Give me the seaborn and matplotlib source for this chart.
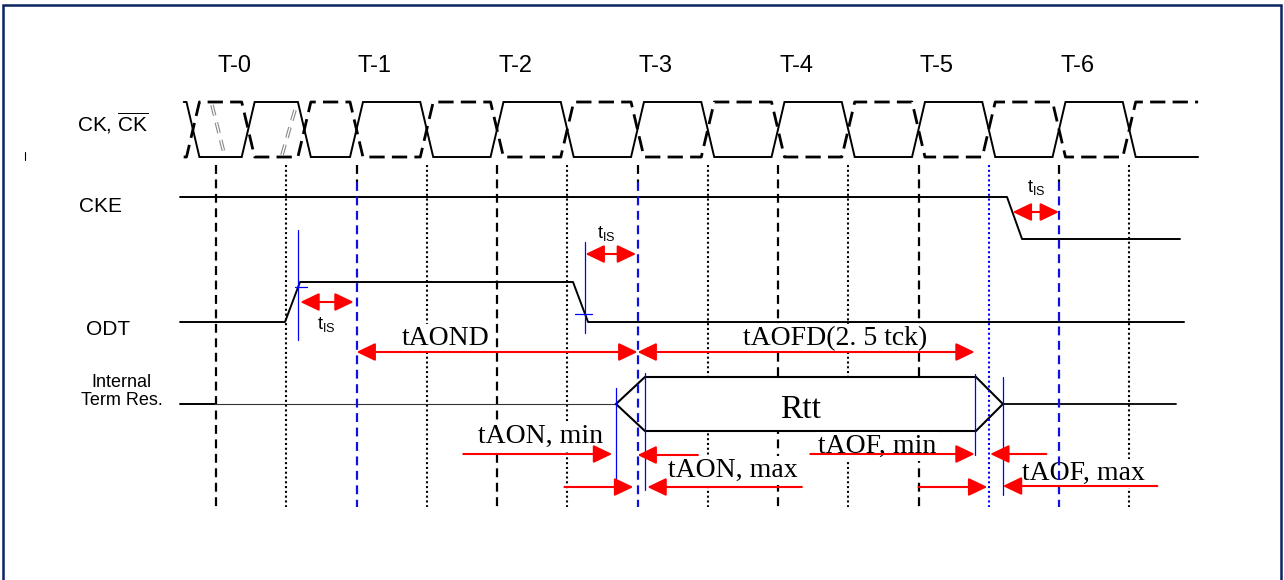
import numpy as np
import pandas as pd
import matplotlib
matplotlib.use("Agg")
import matplotlib.pyplot as plt
import seaborn as sns
from matplotlib.patches import Rectangle, Polygon

# ---------------- data (time in clock cycles, T-0 = 0) ----------------
cycle_labels = ["T-0", "T-1", "T-2", "T-3", "T-4", "T-5", "T-6"]
cycle_ticks = [0, 1, 2, 3, 4, 5, 6]
blue_cycles = [1, 3, 6]
half_cycles = [0.5, 1.5, 2.5, 3.5, 4.5, 5.5, 6.5]
blue_half = [5.5]

ck_start, ck_end = -0.23, 6.99
ck_edges = [-0.164, 0.229, 0.629, 1.0, 1.5, 2.0, 2.5, 3.0, 3.5, 4.0,
            4.5, 5.0, 5.5, 6.0, 6.5]

cke_t = [-0.256, 5.63, 5.737, 6.861]
cke_level = [1, 1, 0, 0]
odt_t = [-0.256, 0.491, 0.598, 2.541, 2.648, 6.89]
odt_level = [0, 0, 1, 1, 0, 0]

term_t = [-0.256, -0.007, 2.847]
rtt_t = [2.847, 3.053, 5.409, 5.601]
term_end = 6.833

blue_marks_t = [0.584, 2.626, 2.847, 3.053, 5.402, 5.601]

tis_arrows = [(5.67, 6.0), (0.60, 0.98), (2.63, 2.99)]
taond = (1.0, 3.0)
taofd = (3.0, 5.40)
taon_min = [(1.76, 2.82), (3.43, 3.0)]
taon_max = [(2.48, 2.97), (4.17, 3.07)]
taof_min = [(4.23, 5.40), (5.91, 5.51)]
taof_max = [(5.0, 5.49), (6.70, 5.60)]

# ---------------- style / layout ----------------
sns.set_theme(style="white")
plt.rcParams["font.family"] = ["Liberation Sans", "DejaVu Sans"]
plt.rcParams["text.color"] = "black"
plt.rcParams["mathtext.fontset"] = "custom"
plt.rcParams["mathtext.rm"] = "Liberation Sans"
plt.rcParams["mathtext.it"] = "Liberation Sans:italic"
plt.rcParams["mathtext.bf"] = "Liberation Sans:bold"
SERIF = ["Liberation Serif", "DejaVu Serif"]

fig = plt.figure(figsize=(12.84, 5.80), dpi=100)
fig.patch.set_facecolor("white")
ax = fig.add_axes([0, 0, 1, 1])
PX0, PER = 216.0, 140.5
XL = (-PX0 / PER, (1284 - PX0) / PER)

def px(p):  # pixel column -> cycles (layout only)
    return (p - PX0) / PER

BLACK = "#000000"
BLUE = "#0000ff"
RED = "#ff0000"

# border (bottom edge lies below the picture, as in the reference)
fig.add_artist(Rectangle((2.5 / 1284, -10 / 580), 1278.5 / 1284, 585 / 580,
                         transform=fig.transFigure, fill=False,
                         lw=1.8, ec="#0b2361"))

# ---------------- grid lines ----------------
GY0, GY1 = 165, 507
for t in cycle_ticks:
    if t in blue_cycles:
        ax.plot([t, t], [GY0, 182], color=BLACK, lw=1.6, ls=(0, (4, 2.5)),
                zorder=1)
        ax.plot([t, t], [182, GY1], color="#1010e0", lw=1.6,
                ls=(0, (4, 2.5)), zorder=4)
    else:
        ax.plot([t, t], [GY0, GY1], color=BLACK, lw=1.6, ls=(0, (4, 2.5)),
                zorder=1)
for t in half_cycles:
    if t in blue_half:
        ax.plot([t, t], [GY0, GY1], color=BLUE, lw=1.5, ls=(0, (1, 1.3)),
                zorder=4)
    else:
        ax.plot([t, t], [GY0, GY1], color=BLACK, lw=1.5, ls=(0, (1, 1.3)),
                zorder=1)

# cycle labels
for t, lab in zip(cycle_ticks, cycle_labels):
    ax.text(t + 0.13, 72, lab, fontsize=17, ha="center", va="baseline")

# ---------------- clock ----------------
CK_HI, CK_LO = 102, 157
hw = 0.046

def clock_path(start_level):
    xs, ys = [ck_start], [start_level]
    lvl = start_level
    for e in ck_edges:
        nl = CK_LO if lvl == CK_HI else CK_HI
        xs += [e - hw, e + hw]
        ys += [lvl, nl]
        lvl = nl
    xs.append(ck_end)
    ys.append(lvl)
    return xs, ys

cx, cy = clock_path(CK_HI)
ax.plot(cx, cy, color=BLACK, lw=1.4, solid_joinstyle="miter", zorder=3)
dx, dy = clock_path(CK_LO)
ax.plot(dx, dy, color=BLACK, lw=2.0, ls=(0, (5.5, 2.6)), zorder=3)
# gray double-line artefacts in the first cycle
for (x0, y0, x1, y1) in [(212, 105, 225, 157), (295, 110, 282, 155)]:
    ax.plot([px(x0), px(x1)], [y0, y1], color="#888888", lw=2.6,
            ls=(0, (3, 2)), zorder=3)
    ax.plot([px(x0), px(x1)], [y0, y1], color="white", lw=1.0,
            ls=(0, (7.8, 5.2)), zorder=3)
ax.plot([px(25), px(25)], [152, 160], color=BLACK, lw=0.8)

# ---------------- CKE / ODT ----------------
cke_df = pd.DataFrame({"t": cke_t,
                       "y": [197 if v else 239 for v in cke_level]})
sns.lineplot(data=cke_df, x="t", y="y", ax=ax, sort=False, estimator=None,
             color=BLACK, lw=1.4, zorder=3)
odt_df = pd.DataFrame({"t": odt_t,
                       "y": [282 if v else 322 for v in odt_level]})
sns.lineplot(data=odt_df, x="t", y="y", ax=ax, sort=False, estimator=None,
             color=BLACK, lw=1.4, zorder=3)
ax.set_xlim(*XL)
ax.set_ylim(580, 0)
ax.axis("off")

# ---------------- Internal term res ----------------
TM, TH = 404, 27
ax.plot(term_t[:2], [TM, TM], color=BLACK, lw=1.4, zorder=3)
ax.plot(term_t[1:], [TM, TM], color="#333333", lw=0.8, zorder=3)
r0, r1, r2, r3 = rtt_t
ax.add_patch(Polygon([(r0, TM), (r1, TM - TH), (r2, TM - TH), (r3, TM),
                      (r2, TM + TH), (r1, TM + TH)], closed=True,
                     fc="white", ec=BLACK, lw=1.5, zorder=3))
ax.plot([r3, term_end], [TM, TM], color=BLACK, lw=1.3, zorder=3)

# blue markers
blue_spans = [(230, 340), (242, 333), (388, 492), (373, 490), (374, 455),
              (377, 495)]
for t, (y0, y1) in zip(blue_marks_t, blue_spans):
    ax.plot([t, t], [y0, y1], color=BLUE, lw=0.9, zorder=4)
ax.plot([px(295), px(307)], [287, 287], color=BLUE, lw=0.9, zorder=4)
ax.plot([px(575), px(592)], [314, 314], color=BLUE, lw=0.9, zorder=4)

# ---------------- arrows ----------------
def arrow(x0, x1, y, style):
    ax.annotate("", xy=(x1, y), xytext=(x0, y), zorder=6,
                arrowprops=dict(arrowstyle=style + ",head_length=1.15,head_width=0.55",
                                color=RED, lw=1.5, shrinkA=0, shrinkB=0,
                                mutation_scale=10))

for (a, b), y in zip(tis_arrows, [212, 302, 254]):
    arrow(a, b, y, "<|-|>")
arrow(*taond, 352, "<|-|>")
arrow(*taofd, 352, "<|-|>")
arrow(*taon_min[0], 454, "-|>")
arrow(*taon_min[1], 455, "-|>")
arrow(*taon_max[0], 487, "-|>")
arrow(*taon_max[1], 487, "-|>")
arrow(*taof_min[0], 454, "-|>")
arrow(*taof_min[1], 454, "-|>")
arrow(*taof_max[0], 487, "-|>")
arrow(*taof_max[1], 486, "-|>")

# ---------------- labels ----------------
ax.text(px(113), 132, r"CK, $\overline{\mathrm{CK}}$", fontsize=15,
        ha="center", va="baseline")
ax.text(px(101), 212, "CKE", fontsize=15, ha="center", va="baseline")
ax.text(px(108), 335, "ODT", fontsize=15, ha="center", va="baseline")
ax.text(px(121), 387, "Internal", fontsize=13, ha="center", va="baseline")
ax.text(px(122), 405, "Term Res.", fontsize=13, ha="center", va="baseline")

for (x, y) in [(1036, 192), (606, 238), (326, 329)]:
    ax.text(px(x), y, r"$\mathrm{t_{IS}}$", fontsize=13, ha="center",
            va="baseline", zorder=5)

WB = dict(fc="white", ec="none", pad=1.5)
serif_labels = [("tAOND", 446, 345, 20), ("tAOFD(2. 5 tck)", 835, 345, 20),
                ("tAON, min", 541, 443, 20), ("tAON, max", 733, 477, 20),
                ("tAOF, min", 877, 453, 20), ("tAOF, max", 1083, 480, 20)]
for s, x, y, fs in serif_labels:
    ax.text(px(x), y, s, fontsize=fs, family=SERIF, ha="center",
            va="baseline", bbox=WB, zorder=3.5)
ax.text(px(801), 418, "Rtt", fontsize=24, family=SERIF, ha="center",
        va="baseline", zorder=5)

fig.savefig("out.png", dpi=100, facecolor="white")
